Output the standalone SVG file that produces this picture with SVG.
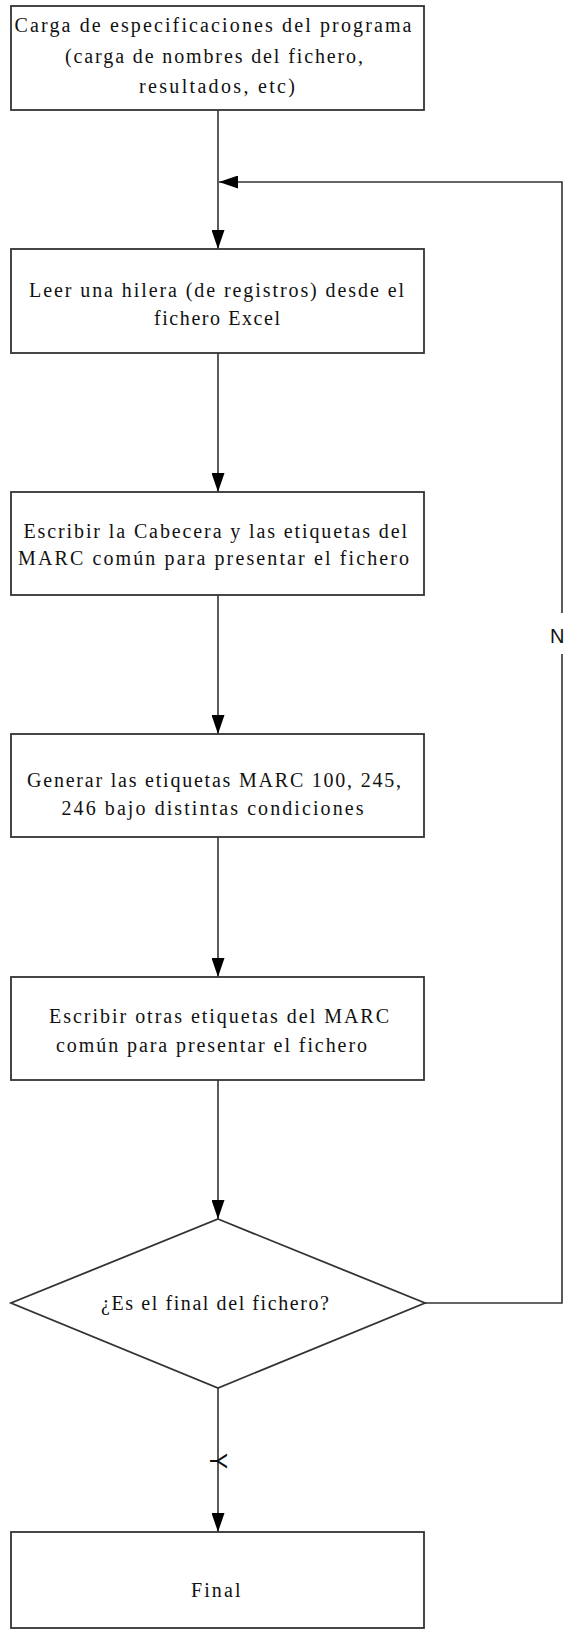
<svg xmlns="http://www.w3.org/2000/svg" width="567" height="1631" viewBox="0 0 567 1631">
<style>
.box{fill:#fff;stroke:#333;stroke-width:1.8}
.ln{fill:none;stroke:#333;stroke-width:1.6}
.t{font-family:"Liberation Serif","Times New Roman",serif;font-size:20px;fill:#111}
.lbl{font-family:"Liberation Sans",Arial,sans-serif;fill:#111}
</style>
<defs>
<marker id="arr" markerUnits="userSpaceOnUse" markerWidth="19" markerHeight="13" refX="19" refY="6.5" orient="auto">
<path d="M0,0 L19,6.5 L0,13 z" fill="#000"/>
</marker>
</defs>
<rect width="567" height="1631" fill="#fff"/>
<g id="connectors">
<path class="ln" d="M218,110 V249" marker-end="url(#arr)"/>
<path class="ln" d="M218,353 V492" marker-end="url(#arr)"/>
<path class="ln" d="M218,595 V734" marker-end="url(#arr)"/>
<path class="ln" d="M218,837 V977" marker-end="url(#arr)"/>
<path class="ln" d="M218,1080 V1219" marker-end="url(#arr)"/>
<path class="ln" d="M218,1388 V1532" marker-end="url(#arr)"/>
<path class="ln" d="M425,1303 H562 V654"/>
<path class="ln" d="M562,613 V182 H219" marker-end="url(#arr)"/>
<text class="lbl" x="550" y="643" font-size="20">N</text>
<text class="lbl" transform="translate(219,1461) rotate(90)" x="0" y="9" font-size="24" text-anchor="middle">Y</text>
</g>
<g id="n1">
<rect class="box" x="11" y="6" width="413" height="104"/>
<text class="t" x="14.5" y="32" textLength="397" lengthAdjust="spacing">Carga de especificaciones del programa</text>
<text class="t" x="65" y="63" textLength="298" lengthAdjust="spacing">(carga de nombres del fichero,</text>
<text class="t" x="139" y="93" textLength="156" lengthAdjust="spacing">resultados, etc)</text>
</g>
<g id="n2">
<rect class="box" x="11" y="249" width="413" height="104"/>
<text class="t" x="29" y="297" textLength="375" lengthAdjust="spacing">Leer una hilera (de registros) desde el</text>
<text class="t" x="154" y="325" textLength="126" lengthAdjust="spacing">fichero Excel</text>
</g>
<g id="n3">
<rect class="box" x="11" y="492" width="413" height="103"/>
<text class="t" x="23.5" y="538" textLength="383.5" lengthAdjust="spacing">Escribir la Cabecera y las etiquetas del</text>
<text class="t" x="18" y="565" textLength="391" lengthAdjust="spacing">MARC común para presentar el fichero</text>
</g>
<g id="n4">
<rect class="box" x="11" y="734" width="413" height="103"/>
<text class="t" x="27" y="787" textLength="374" lengthAdjust="spacing">Generar las etiquetas MARC 100, 245,</text>
<text class="t" x="61.5" y="815" textLength="302" lengthAdjust="spacing">246 bajo distintas condiciones</text>
</g>
<g id="n5">
<rect class="box" x="11" y="977" width="413" height="103"/>
<text class="t" x="49" y="1023" textLength="340" lengthAdjust="spacing">Escribir otras etiquetas del MARC</text>
<text class="t" x="56" y="1052" textLength="311" lengthAdjust="spacing">común para presentar el fichero</text>
</g>
<g id="n6">
<polygon class="box" points="218,1219 425,1303 218,1388 11,1303"/>
<text class="t" x="101" y="1310" textLength="228" lengthAdjust="spacing">¿Es el final del fichero?</text>
</g>
<g id="n7">
<rect class="box" x="11" y="1532" width="413" height="96"/>
<text class="t" x="191" y="1597" textLength="49.5" lengthAdjust="spacing">Final</text>
</g>
</svg>
